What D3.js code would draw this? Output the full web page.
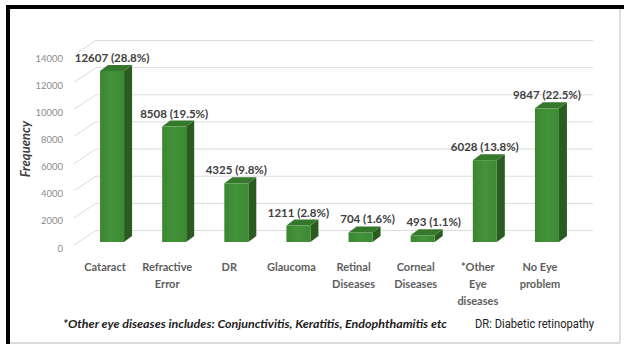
<!DOCTYPE html>
<html>
<head>
<meta charset="utf-8">
<script src="https://cdn.jsdelivr.net/npm/d3@7"></script>
<style>
  body { margin: 0; background: #fff; }
  svg { display: block; }
</style>
</head>
<body>
<div id="chart"></div>
<script>
// Data
const categories = [["Cataract"], ["Refractive", "Error"], ["DR"], ["Glaucoma"],
  ["Retinal", "Diseases"], ["Corneal", "Diseases"], ["*Other", "Eye", "diseases"], ["No Eye", "problem"]];
const frequency = [12607, 8508, 4325, 1211, 704, 493, 6028, 9847];
const percent = ["28.8%", "19.5%", "9.8%", "2.8%", "1.6%", "1.1%", "13.8%", "22.5%"];
const yTicks = [0, 2000, 4000, 6000, 8000, 10000, 12000, 14000];

const W = 624, H = 347;
const svg = d3.select('#chart').append('svg').attr('width', W).attr('height', H);

// frame
svg.append('line').attr('x1', 620).attr('x2', 620).attr('y1', 8).attr('y2', 343)
  .attr('stroke', '#d6d6d6').attr('stroke-width', 1.5);
svg.append('line').attr('x1', 8).attr('x2', 620).attr('y1', 343).attr('y2', 343)
  .attr('stroke', '#cfcfcf').attr('stroke-width', 1.5);
svg.append('line').attr('x1', 6).attr('x2', 624).attr('y1', 7).attr('y2', 7)
  .attr('stroke', '#000').attr('stroke-width', 4);
svg.append('line').attr('x1', 8).attr('x2', 8).attr('y1', 5).attr('y2', 344)
  .attr('stroke', '#000').attr('stroke-width', 4);

// scales
const x = d3.scaleBand()
  .domain(d3.range(categories.length))
  .range([74, 571]);
const y = d3.scaleLinear().domain([0, 14000]).range([242, 52]);

const depthX = 8, depthY = 6;   // bar depth
const wallX = 96, wallRight = 593, wallY = 12;  // back wall offset
const barW = 24;

// gridlines: back wall and left wall
const grid = svg.append('g').attr('stroke', '#dcdcdc').attr('stroke-width', 1);
grid.selectAll('.back').data(yTicks).join('line')
  .attr('x1', wallX).attr('x2', wallRight)
  .attr('y1', d => y(d) - wallY + 0.5).attr('y2', d => y(d) - wallY + 0.5);
grid.selectAll('.side').data(yTicks).join('line')
  .attr('x1', 74).attr('x2', wallX)
  .attr('y1', d => y(d) + 3).attr('y2', d => y(d) - wallY + 0.5);

// y tick labels
svg.append('g').selectAll('text').data(yTicks).join('text')
  .attr('x', 63).attr('y', d => y(d) + 6)
  .attr('text-anchor', 'end').attr('dominant-baseline', 'central')
  .attr('font-family', 'Lato, sans-serif').attr('font-size', 9.5)
  .attr('fill', '#8c8c8c')
  .text(d => d);

// y title
svg.append('text')
  .attr('transform', 'translate(30,149) rotate(-90)')
  .attr('text-anchor', 'middle')
  .attr('font-family', 'Lato, sans-serif').attr('font-size', 13)
  .attr('font-weight', 'bold').attr('font-style', 'italic')
  .attr('fill', '#404040')
  .text('Frequency');

// gradient for the front face
const defs = svg.append('defs');
const grad = defs.append('linearGradient').attr('id', 'front').attr('x1', 0).attr('x2', 1);
grad.append('stop').attr('offset', 0).attr('stop-color', '#3a8630');
grad.append('stop').attr('offset', 0.5).attr('stop-color', '#44933a');
grad.append('stop').attr('offset', 1).attr('stop-color', '#3c8a32');

const bx = i => x(i) + x.bandwidth() / 2 - 5;
const base = y(0);

const bars = svg.append('g').selectAll('g').data(frequency).join('g');

bars.append('polygon')
  .attr('fill', '#2b5c1f')
  .attr('points', (d, i) => {
    const x0 = bx(i) + barW, t = y(d);
    return [[x0, t], [x0 + depthX, t - depthY], [x0 + depthX, base - depthY], [x0, base]].join(' ');
  });
bars.append('polygon')
  .attr('fill', '#35782b')
  .attr('points', (d, i) => {
    const x0 = bx(i), t = y(d);
    return [[x0, t], [x0 + depthX, t - depthY], [x0 + barW + depthX, t - depthY], [x0 + barW, t]].join(' ');
  });
bars.append('rect')
  .attr('x', (d, i) => bx(i)).attr('y', d => y(d))
  .attr('width', barW).attr('height', d => base - y(d))
  .attr('fill', 'url(#front)');

// value labels (two short bars have their labels pushed right)
const nudge = { 4: 7, 5: 11 };
svg.append('g').selectAll('text').data(frequency).join('text')
  .attr('x', (d, i) => bx(i) + barW / 2 + (nudge[i] || 0))
  .attr('y', d => y(d) - 9)
  .attr('text-anchor', 'middle')
  .attr('font-family', 'Lato, sans-serif').attr('font-size', 11.5)
  .attr('font-weight', 'bold').attr('fill', '#404040')
  .text((d, i) => `${d} (${percent[i]})`);

// category labels
const cat = svg.append('g').selectAll('text').data(categories).join('text')
  .attr('text-anchor', 'middle')
  .attr('font-family', 'Lato, sans-serif').attr('font-size', 11)
  .attr('font-weight', 'bold').attr('fill', '#5e5e5e');
cat.selectAll('tspan').data((d, i) => d.map(s => [s, i])).join('tspan')
  .attr('x', d => x(d[1]) + x.bandwidth() / 2)
  .attr('y', (d, j) => 271 + j * 17)
  .text(d => d[0]);

// footnotes
svg.append('text')
  .attr('x', 63).attr('y', 328)
  .attr('font-family', 'Lato, sans-serif').attr('font-size', 11)
  .attr('font-weight', 'bold').attr('font-style', 'italic').attr('fill', '#1c1c1c')
  .attr('textLength', 384).attr('lengthAdjust', 'spacingAndGlyphs')
  .text('*Other eye diseases includes: Conjunctivitis, Keratitis, Endophthamitis etc');
svg.append('text')
  .attr('x', 475).attr('y', 328)
  .attr('font-family', 'Roboto, sans-serif').attr('font-size', 12.5)
  .attr('fill', '#222')
  .attr('textLength', 119).attr('lengthAdjust', 'spacingAndGlyphs')
  .text('DR: Diabetic retinopathy');
</script>
</body>
</html>
